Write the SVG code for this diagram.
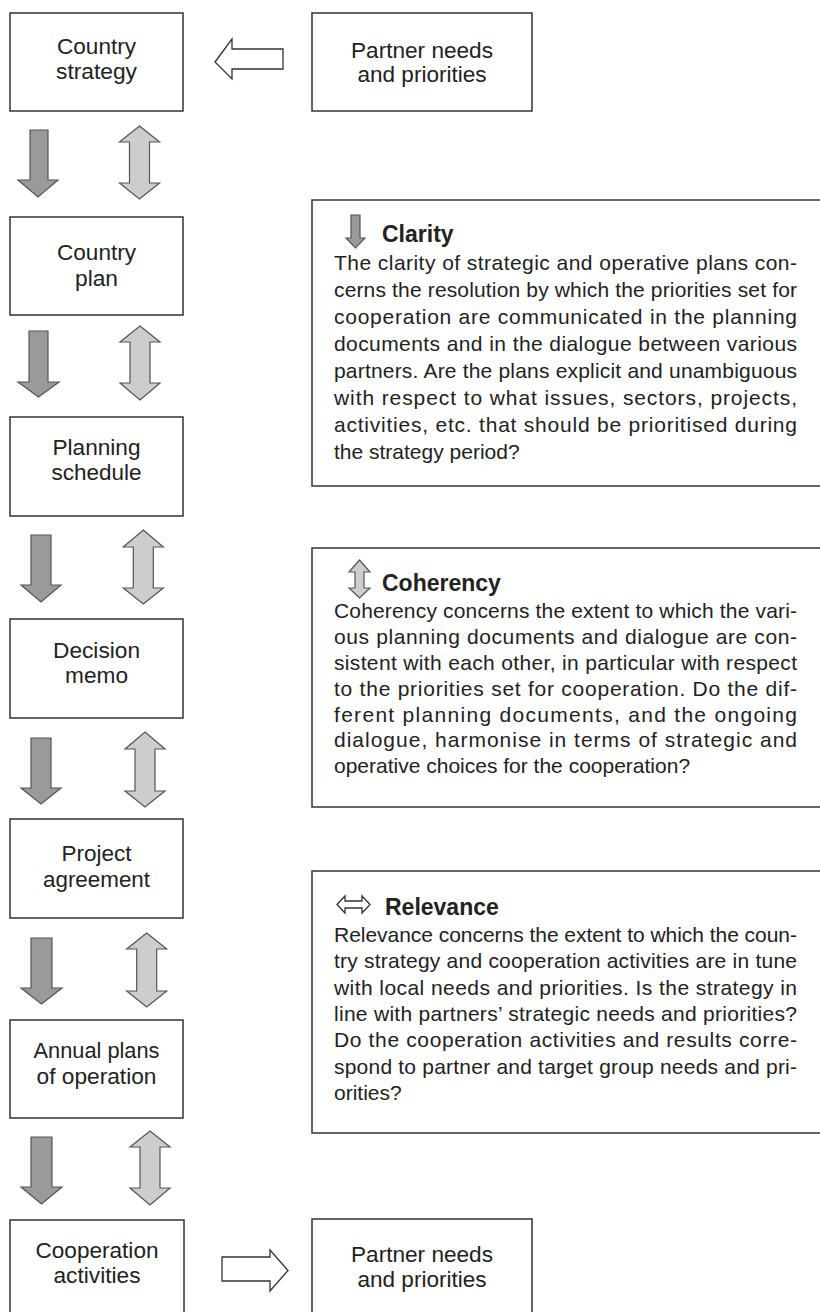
<svg xmlns="http://www.w3.org/2000/svg" width="820" height="1312" viewBox="0 0 820 1312">
<style>
.box{fill:#fff;stroke:#333;stroke-width:1.5}
.lbl{font-family:"Liberation Sans Narrow","Liberation Sans",Arial,sans-serif;font-size:22px;fill:#222;text-anchor:middle}
.down{fill:#9a9a9a;stroke:#555;stroke-width:1.2;stroke-linejoin:miter}
.dbl{fill:#cdcdcd;stroke:#555;stroke-width:1.2}
.hollow{fill:#fff;stroke:#333;stroke-width:1.3}
.ttl{font-family:"Liberation Sans",Arial,sans-serif;font-size:23px;font-weight:bold;fill:#222}
.body{font-family:"Liberation Sans",Arial,sans-serif;font-size:21px;fill:#222}
</style>
<rect width="820" height="1312" fill="#fff"/>

<g id="connectors">
  <polygon class="hollow" points="215,62 232,39 232,49 283,49 283,69 232,69 232,79"/>
  <polygon class="hollow" points="222,1257 270,1257 270,1250 288,1270.5 270,1291 270,1281 222,1281"/>
  <polygon class="down" points="30,130 48,130 48,180 58,180 38,197 18,180 30,180"/>
  <polygon class="down" points="29,331 48,331 48,382 59,382 38.5,397 18,382 29,382"/>
  <polygon class="down" points="31,535 51,535 51,585 61,585 41,602 21,585 31,585"/>
  <polygon class="down" points="31,738 51,738 51,788 61,788 41,804 21,788 31,788"/>
  <polygon class="down" points="31,938 52,938 52,988 62,988 41.5,1004 21,988 31,988"/>
  <polygon class="down" points="31,1137 52,1137 52,1187 62,1187 41.5,1204 21,1187 31,1187"/>
  <polygon class="dbl" points="139.5,126 159.5,142 149.5,142 149.5,183 159.5,183 139.5,199 119.5,183 129.5,183 129.5,142 119.5,142"/>
  <polygon class="dbl" points="140,326 160,342 150,342 150,383 160,383 140,400 120,383 130,383 130,342 120,342"/>
  <polygon class="dbl" points="143.3,530 163.3,547 153.3,547 153.3,588 163.3,588 143.3,604 123.3,588 133.3,588 133.3,547 123.3,547"/>
  <polygon class="dbl" points="145,732 165,749 155,749 155,791 165,791 145,807 125,791 135,791 135,749 125,749"/>
  <polygon class="dbl" points="146.7,933 166.7,949 156.7,949 156.7,991 166.7,991 146.7,1007 126.7,991 136.7,991 136.7,949 126.7,949"/>
  <polygon class="dbl" points="150,1131 170,1147 160,1147 160,1188 170,1188 150,1205 130,1188 140,1188 140,1147 130,1147"/>
</g>

<g id="country-strategy">
  <rect class="box" x="10" y="13" width="173" height="98"/>
  <text class="lbl" x="96.5" y="54" textLength="79" lengthAdjust="spacingAndGlyphs">Country</text>
  <text class="lbl" x="96.5" y="79" textLength="81" lengthAdjust="spacingAndGlyphs">strategy</text>
</g>
<g id="partner-top">
  <rect class="box" x="312" y="13" width="220" height="98"/>
  <text class="lbl" x="422" y="58" textLength="142" lengthAdjust="spacingAndGlyphs">Partner needs</text>
  <text class="lbl" x="422" y="82" textLength="129" lengthAdjust="spacingAndGlyphs">and priorities</text>
</g>
<g id="country-plan">
  <rect class="box" x="10" y="217" width="173" height="98"/>
  <text class="lbl" x="96.5" y="260" textLength="79" lengthAdjust="spacingAndGlyphs">Country</text>
  <text class="lbl" x="96.5" y="286" textLength="43" lengthAdjust="spacingAndGlyphs">plan</text>
</g>
<g id="planning-schedule">
  <rect class="box" x="10" y="417" width="173" height="99"/>
  <text class="lbl" x="96.5" y="455" textLength="88" lengthAdjust="spacingAndGlyphs">Planning</text>
  <text class="lbl" x="96.5" y="480" textLength="90" lengthAdjust="spacingAndGlyphs">schedule</text>
</g>
<g id="decision-memo">
  <rect class="box" x="10" y="619" width="173" height="99"/>
  <text class="lbl" x="96.5" y="658" textLength="87" lengthAdjust="spacingAndGlyphs">Decision</text>
  <text class="lbl" x="96.5" y="683" textLength="63" lengthAdjust="spacingAndGlyphs">memo</text>
</g>
<g id="project-agreement">
  <rect class="box" x="10" y="819" width="173" height="99"/>
  <text class="lbl" x="96.5" y="861" textLength="70" lengthAdjust="spacingAndGlyphs">Project</text>
  <text class="lbl" x="96.5" y="887" textLength="107" lengthAdjust="spacingAndGlyphs">agreement</text>
</g>
<g id="annual-plans">
  <rect class="box" x="10" y="1020" width="173" height="98"/>
  <text class="lbl" x="96.5" y="1058" textLength="126" lengthAdjust="spacingAndGlyphs">Annual plans</text>
  <text class="lbl" x="96.5" y="1084" textLength="120" lengthAdjust="spacingAndGlyphs">of operation</text>
</g>
<g id="cooperation-activities">
  <rect class="box" x="10" y="1220" width="174" height="110"/>
  <text class="lbl" x="97" y="1258" textLength="123" lengthAdjust="spacingAndGlyphs">Cooperation</text>
  <text class="lbl" x="97" y="1283" textLength="87" lengthAdjust="spacingAndGlyphs">activities</text>
</g>
<g id="partner-bottom">
  <rect class="box" x="312" y="1219" width="220" height="110"/>
  <text class="lbl" x="422" y="1262" textLength="142" lengthAdjust="spacingAndGlyphs">Partner needs</text>
  <text class="lbl" x="422" y="1287" textLength="129" lengthAdjust="spacingAndGlyphs">and priorities</text>
</g>

<g id="clarity">
  <rect class="box" x="312" y="200" width="520" height="286"/>
  <polygon class="down" points="351,215 360,215 360,238 365,238 355.5,248 346,238 351,238"/>
  <text class="ttl" x="382" y="242">Clarity</text>
  <text class="body" x="334" y="270" textLength="463" lengthAdjust="spacing">The clarity of strategic and operative plans con-</text>
  <text class="body" x="334" y="297" textLength="463" lengthAdjust="spacing">cerns the resolution by which the priorities set for</text>
  <text class="body" x="334" y="324" textLength="463" lengthAdjust="spacing">cooperation are communicated in the planning</text>
  <text class="body" x="334" y="351" textLength="463" lengthAdjust="spacing">documents and in the dialogue between various</text>
  <text class="body" x="334" y="378" textLength="463" lengthAdjust="spacing">partners. Are the plans explicit and unambiguous</text>
  <text class="body" x="334" y="405" textLength="463" lengthAdjust="spacing">with respect to what issues, sectors, projects,</text>
  <text class="body" x="334" y="432" textLength="463" lengthAdjust="spacing">activities, etc. that should be prioritised during</text>
  <text class="body" x="334" y="459">the strategy period?</text>
</g>

<g id="coherency">
  <rect class="box" x="312" y="548" width="520" height="259"/>
  <polygon class="dbl" points="359.5,560 370,572 364,572 364,588 370,588 359.5,598 349,588 355,588 355,572 349,572"/>
  <text class="ttl" x="382" y="591">Coherency</text>
  <text class="body" x="334" y="618" textLength="463" lengthAdjust="spacing">Coherency concerns the extent to which the vari-</text>
  <text class="body" x="334" y="644" textLength="463" lengthAdjust="spacing">ous planning documents and dialogue are con-</text>
  <text class="body" x="334" y="670" textLength="463" lengthAdjust="spacing">sistent with each other, in particular with respect</text>
  <text class="body" x="334" y="696" textLength="463" lengthAdjust="spacing">to the priorities set for cooperation. Do the dif-</text>
  <text class="body" x="334" y="722" textLength="463" lengthAdjust="spacing">ferent planning documents, and the ongoing</text>
  <text class="body" x="334" y="747" textLength="463" lengthAdjust="spacing">dialogue, harmonise in terms of strategic and</text>
  <text class="body" x="334" y="773">operative choices for the cooperation?</text>
</g>

<g id="relevance">
  <rect class="box" x="312" y="871" width="520" height="262"/>
  <polygon class="hollow" points="337,904.5 345,896 345,901 362,901 362,896 370,904.5 362,913 362,908 345,908 345,913"/>
  <text class="ttl" x="385" y="915">Relevance</text>
  <text class="body" x="334" y="942" textLength="463" lengthAdjust="spacing">Relevance concerns the extent to which the coun-</text>
  <text class="body" x="334" y="968" textLength="463" lengthAdjust="spacing">try strategy and cooperation activities are in tune</text>
  <text class="body" x="334" y="995" textLength="463" lengthAdjust="spacing">with local needs and priorities. Is the strategy in</text>
  <text class="body" x="334" y="1021" textLength="463" lengthAdjust="spacing">line with partners’ strategic needs and priorities?</text>
  <text class="body" x="334" y="1047" textLength="463" lengthAdjust="spacing">Do the cooperation activities and results corre-</text>
  <text class="body" x="334" y="1074" textLength="463" lengthAdjust="spacing">spond to partner and target group needs and pri-</text>
  <text class="body" x="334" y="1100">orities?</text>
</g>
</svg>
